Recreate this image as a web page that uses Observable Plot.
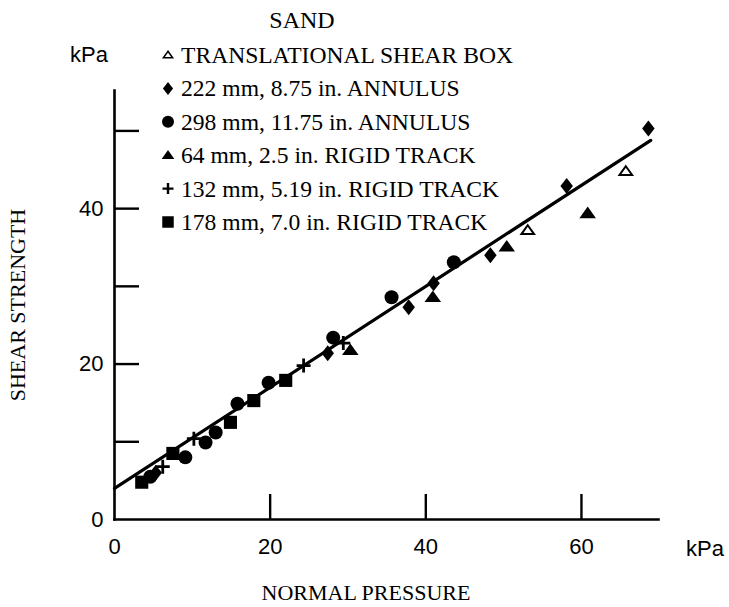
<!DOCTYPE html>
<html><head><meta charset="utf-8">
<script src="https://cdn.jsdelivr.net/npm/d3@7"></script>
<script src="https://cdn.jsdelivr.net/npm/@observablehq/plot@0.6"></script>
<style>
body{margin:0;background:#fff;}
#wrap{position:relative;width:729px;height:607px;}
#wrap svg{position:absolute;left:0;top:0;}
</style></head><body><div id="wrap"></div>
<script>
// ---- data (kPa) ----
const seriesNames = [
  "TRANSLATIONAL SHEAR BOX",
  "222 mm, 8.75 in. ANNULUS",
  "298 mm, 11.75 in. ANNULUS",
  "64 mm, 2.5 in. RIGID TRACK",
  "132 mm, 5.19 in. RIGID TRACK",
  "178 mm, 7.0 in. RIGID TRACK"
];
const shearBoxX = [53.1, 65.7];
const shearBoxY = [37.2, 44.8];
const annulus222X = [5.3, 27.4, 37.8, 41.0, 48.3, 58.1, 68.6];
const annulus222Y = [6.0, 21.4, 27.3, 30.4, 34.0, 42.9, 50.3];
const annulus298X = [4.6, 9.1, 11.7, 13.0, 15.8, 19.8, 28.1, 35.6, 43.6];
const annulus298Y = [5.5, 8.0, 9.9, 11.2, 14.9, 17.6, 23.4, 28.6, 33.1];
const track64X = [30.3, 40.9, 50.4, 60.8];
const track64Y = [21.8, 28.6, 35.1, 39.4];
const track132X = [6.2, 10.2, 24.3, 29.4];
const track132Y = [6.8, 10.4, 19.8, 22.7];
const track178X = [3.5, 7.5, 14.9, 17.9, 22.0];
const track178Y = [4.8, 8.5, 12.5, 15.3, 17.9];
const fitIntercept = 4.0, fitSlope = 0.65, fitXRange = [0, 68.9];
const xTickMarks = [20, 40, 60];
const xTickLabels = [0, 20, 40, 60];
const yTickMarks = [10, 20, 30, 40, 50];
const yTickLabels = [0, 20, 40];

const zip = (xs, ys) => xs.map((x, i) => ({x, y: ys[i]}));
const fitLine = fitXRange.map(x => ({x, y: fitIntercept + fitSlope * x}));

// custom symbols (r derived from Plot's size = PI r^2)
const rOf = size => Math.sqrt(size / Math.PI);
const diamondSym = {draw(c, size){const r = rOf(size), w = r*0.78; c.moveTo(0,-r); c.lineTo(w,0); c.lineTo(0,r); c.lineTo(-w,0); c.closePath();}};
const plusSym = {draw(c, size){const r = rOf(size); c.moveTo(-r,0); c.lineTo(r,0); c.moveTo(0,-r); c.lineTo(0,r);}};
const squareSym = {draw(c, size){const r = rOf(size)*0.82; c.rect(-r,-r,2*r,2*r);}};
const triSym = {draw(c, size){const r = rOf(size); const h = r*1.6, w = r*1.15; c.moveTo(0,-h*0.58); c.lineTo(w, h*0.42); c.lineTo(-w, h*0.42); c.closePath();}};

const W = 729, H = 607, mL = 114, mR = 71, mT = 90, mB = 88;
const sans = "'Liberation Sans', Arial, sans-serif";
const serif = "'Liberation Serif','Times New Roman',serif";
const plot = Plot.plot({
  width: W, height: H,
  marginLeft: mL, marginRight: mR, marginTop: mT, marginBottom: mB,
  x: {domain: [0, 69.9], label: null},
  y: {domain: [0, 55.2], label: null},
  style: {background: "transparent", fontFamily: sans, fontSize: "22px", color: "#000", overflow: "visible"},
  marks: [
    Plot.frame({anchor: "bottom", strokeWidth: 2.6}),
    Plot.frame({anchor: "left", strokeWidth: 2.6}),
    Plot.tickX(xTickMarks, {x: d => d, insetTop: (H - mT - mB) - 25, strokeWidth: 2.4}),
    Plot.tickY(yTickMarks, {y: d => d, insetRight: (W - mL - mR) - 25, strokeWidth: 2.4}),
    Plot.axisX({ticks: xTickLabels, tickSize: 0, tickPadding: 19, fontSize: 22, label: null}),
    Plot.axisY({ticks: yTickLabels, tickSize: 0, tickPadding: 11, fontSize: 22, label: null}),
    Plot.line(fitLine, {x: "x", y: "y", strokeWidth: 3.2, stroke: "#000"}),
    Plot.dot(zip(track178X, track178Y), {x: "x", y: "y", symbol: squareSym, r: 8, fill: "#000", stroke: "none"}),
    Plot.dot(zip(annulus298X, annulus298Y), {x: "x", y: "y", symbol: "circle", r: 7, fill: "#000", stroke: "none"}),
    Plot.dot(zip(annulus222X, annulus222Y), {x: "x", y: "y", symbol: diamondSym, r: 8, fill: "#000", stroke: "none"}),
    Plot.dot(zip(track64X, track64Y), {x: "x", y: "y", symbol: triSym, r: 7.2, fill: "#000", stroke: "none"}),
    Plot.dot(zip(track132X, track132Y), {x: "x", y: "y", symbol: plusSym, r: 7, fill: "none", stroke: "#000", strokeWidth: 2.8}),
    Plot.dot(zip(shearBoxX, shearBoxY), {x: "x", y: "y", symbol: triSym, r: 5.5, fill: "#fff", stroke: "#000", strokeWidth: 2})
  ]
});
document.getElementById("wrap").appendChild(plot);

// ---- overlay: legend, titles, units ----
const ov = d3.create("svg").attr("width", W).attr("height", H).style("pointer-events", "none");
ov.append("text").attr("x", 302).attr("y", 28).attr("text-anchor", "middle")
  .attr("font-family", serif).attr("font-size", 24).text("SAND");
const legSyms = [
  {sym: triSym, size: 4, fill: "#fff", stroke: "#000", sw: 1.5},
  {sym: diamondSym, size: 6.5, fill: "#000", stroke: "none", sw: 0},
  {sym: d3.symbolCircle, size: 6, fill: "#000", stroke: "none", sw: 0},
  {sym: triSym, size: 5.5, fill: "#000", stroke: "none", sw: 0},
  {sym: plusSym, size: 5.5, fill: "none", stroke: "#000", sw: 2.4},
  {sym: squareSym, size: 7, fill: "#000", stroke: "none", sw: 0}
];
seriesNames.forEach((name, i) => {
  const yb = 63 + 33.4 * i;
  const s = legSyms[i];
  ov.append("path")
    .attr("d", d3.symbol(s.sym, Math.PI * s.size * s.size)())
    .attr("transform", `translate(168,${yb - 8})`)
    .attr("fill", s.fill).attr("stroke", s.stroke).attr("stroke-width", s.sw);
  ov.append("text").attr("x", 181).attr("y", yb).attr("font-family", serif).attr("font-size", 23.6).text(name);
});
ov.append("text").attr("transform", "translate(25,305) rotate(-90)").attr("text-anchor", "middle")
  .attr("font-family", serif).attr("font-size", 22).text("SHEAR STRENGTH");
ov.append("text").attr("x", 366).attr("y", 600).attr("text-anchor", "middle")
  .attr("font-family", serif).attr("font-size", 22).text("NORMAL PRESSURE");
ov.append("text").attr("x", 108).attr("y", 62).attr("text-anchor", "end").attr("font-family", sans).attr("font-size", 22).text("kPa");
ov.append("text").attr("x", 686).attr("y", 556).attr("font-family", sans).attr("font-size", 22).text("kPa");
document.getElementById("wrap").appendChild(ov.node());
</script></body></html>
